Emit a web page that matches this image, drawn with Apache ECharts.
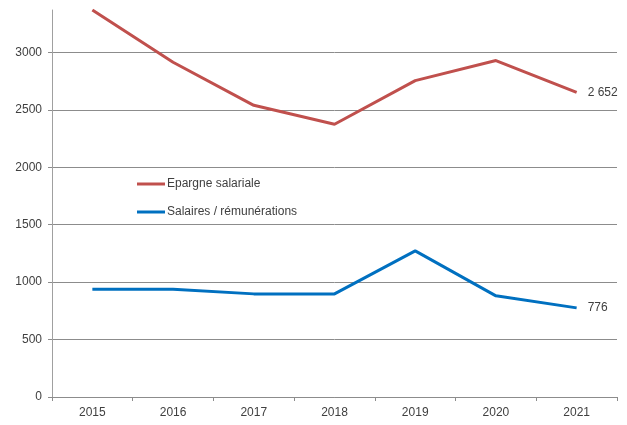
<!DOCTYPE html>
<html>
<head>
<meta charset="utf-8">
<script src="https://cdn.jsdelivr.net/npm/echarts@6/dist/echarts.min.js"></script>
<style>
  html, body { margin: 0; padding: 0; background: #fff; }
  #chart { width: 627px; height: 425px; }
</style>
</head>
<body>
<div id="chart"></div>
<script>
// Years on the category axis
const years = ['2015', '2016', '2017', '2018', '2019', '2020', '2021'];
// Epargne salariale
const epargne = [3370, 2915, 2540, 2375, 2755, 2930, 2652];
// Salaires / rémunérations
const salaires = [939, 939, 898, 898, 1272, 881, 776];
// Value-axis ticks
const yTicks = [0, 500, 1000, 1500, 2000, 2500, 3000];

const FONT = '"Liberation Sans Narrow", "Liberation Sans", sans-serif';
const fmtNum = v => String(v).replace(/\B(?=(\d{3})+(?!\d))/g, ' ');

const chart = echarts.init(document.getElementById('chart'), null, { renderer: 'canvas' });

// Value written just right of the last point of a line
const endLabel = {
  show: true,
  distance: 11,
  color: '#404040',
  fontFamily: FONT,
  fontSize: 12,
  formatter: p => fmtNum(p.value)
};

chart.setOption({
  animation: false,
  grid: { left: 52, right: 10, top: 10, bottom: 28 },
  legend: {
    orient: 'vertical',
    left: 132,
    top: 173,
    itemWidth: 28,
    itemHeight: 3,
    itemGap: 16,
    icon: 'rect',
    textStyle: { fontFamily: FONT, fontSize: 12, color: '#404040', padding: [0, 0, 0, -3] },
    data: ['Epargne salariale', 'Salaires / rémunérations']
  },
  xAxis: {
    type: 'category',
    data: years,
    boundaryGap: true,
    axisLine: { lineStyle: { color: '#8c8c8c', width: 1 } },
    axisTick: { show: true, length: 4, lineStyle: { color: '#8c8c8c' } },
    axisLabel: { fontFamily: FONT, fontSize: 12, color: '#404040', margin: 10 },
    splitLine: { show: false }
  },
  yAxis: {
    type: 'value',
    min: 0,
    max: 3370,
    interval: 500,
    axisLine: { show: true, lineStyle: { color: '#a0a0a0', width: 1 } },
    axisTick: { show: true, length: 4, lineStyle: { color: '#8c8c8c' } },
    axisLabel: {
      fontFamily: FONT, fontSize: 12, color: '#404040', margin: 10,
      showMaxLabel: false,
      formatter: v => (yTicks.includes(v) ? String(v) : '')
    },
    splitLine: { show: true, showMaxLine: false, lineStyle: { color: '#8c8c8c', width: 1 } }
  },
  series: [
    {
      name: 'Epargne salariale',
      type: 'line',
      data: epargne,
      symbol: 'none',
      color: '#c0504d',
      lineStyle: { width: 3, color: '#c0504d' },
      endLabel: endLabel,
      clip: true
    },
    {
      name: 'Salaires / rémunérations',
      type: 'line',
      data: salaires,
      symbol: 'none',
      color: '#0070c0',
      lineStyle: { width: 3, color: '#0070c0' },
      endLabel: endLabel
    }
  ]
});
</script>
</body>
</html>
